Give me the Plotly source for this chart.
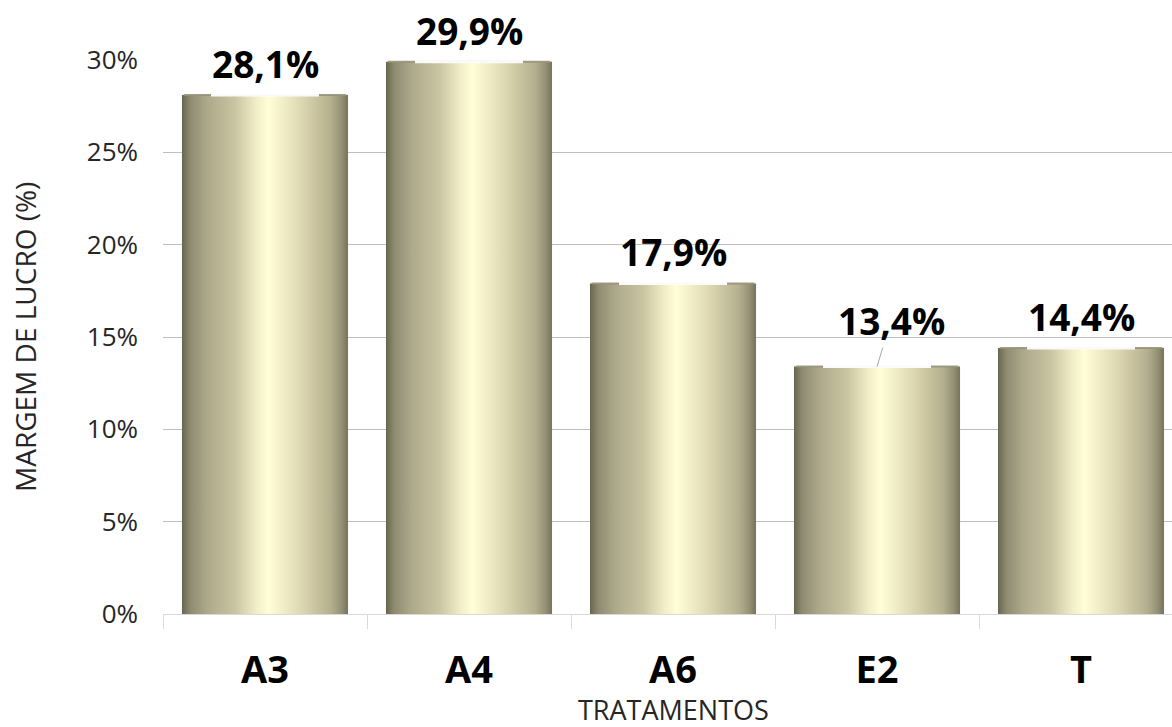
import plotly.graph_objects as go

# Profit margin by treatment
categories = ["A3", "A4", "A6", "E2", "T"]
margins = [28.1, 29.9, 17.9, 13.4, 14.4]
labels = ["28,1%", "29,9%", "17,9%", "13,4%", "14,4%"]
y_ticks = [0, 5, 10, 15, 20, 25, 30]
y_ticktext = ["0%", "5%", "10%", "15%", "20%", "25%", "30%"]

BAR_HALF = 0.407
FONT = "Open Sans, Lato, sans-serif"

# cylinder-like shading across each bar
cyl_scale = [
    [0.00, "#69664f"],
    [0.05, "#8f8b71"],
    [0.15, "#aca88a"],
    [0.32, "#c9c5a2"],
    [0.45, "#f1eec8"],
    [0.52, "#fffed6"],
    [0.60, "#f3f0c9"],
    [0.75, "#d6d1ab"],
    [0.90, "#b3ae8d"],
    [0.96, "#959176"],
    [1.00, "#77735c"],
]

fig = go.Figure()

for i, (cat, v) in enumerate(zip(categories, margins)):
    x0, x1 = i - BAR_HALF, i + BAR_HALF
    fig.add_trace(go.Scatter(
        x=[x0, x1, x1, x0, x0],
        y=[0, 0, v, v, 0],
        mode="lines",
        line=dict(width=0),
        fill="toself",
        fillgradient=dict(type="horizontal", colorscale=cyl_scale),
        hoverinfo="skip",
        showlegend=False,
        name=cat,
    ))
    # light rim along the top of the cylinder
    fig.add_trace(go.Scatter(
        x=[i - BAR_HALF * 0.98, i + BAR_HALF * 0.98],
        y=[v, v],
        mode="lines",
        line=dict(color="rgba(150,146,120,0.9)", width=2),
        hoverinfo="skip",
        showlegend=False,
    ))
    fig.add_trace(go.Scatter(
        x=[i - BAR_HALF * 0.65, i + BAR_HALF * 0.65],
        y=[v, v],
        mode="lines",
        line=dict(color="rgba(255,255,255,0.95)", width=3),
        hoverinfo="skip",
        showlegend=False,
    ))

# value labels above the bars
for i, (v, t) in enumerate(zip(margins, labels)):
    if categories[i] == "E2":
        fig.add_annotation(
            x=i, y=v, text=f"<b>{t}</b>", showarrow=True,
            arrowhead=0, arrowwidth=1, arrowcolor="#a6a6a6",
            ax=14, ay=-46, standoff=0,
            font=dict(family=FONT, size=37, color="#000000"),
        )
    else:
        fig.add_annotation(
            x=i, y=v, text=f"<b>{t}</b>", showarrow=False,
            yanchor="bottom", yshift=4,
            font=dict(family=FONT, size=37, color="#000000"),
        )

# axis titles
fig.add_annotation(
    x=2, xref="x", y=-0.1715, yref="paper", yanchor="middle",
    text="TRATAMENTOS", showarrow=False,
    font=dict(family=FONT, size=27, color="#262626"),
)
fig.add_annotation(
    x=-0.1368, xref="paper", xanchor="center", y=0.5, yref="paper",
    yanchor="middle", textangle=-90,
    text="MARGEM DE LUCRO (%)", showarrow=False,
    font=dict(family=FONT, size=28, color="#262626"),
)

fig.update_layout(
    width=1172, height=727,
    margin=dict(l=163, r=0, t=60, b=113),
    paper_bgcolor="white", plot_bgcolor="white",
    font=dict(family=FONT, color="#262626"),
    xaxis=dict(
        range=[-0.5, 4.446],
        tickvals=list(range(len(categories))),
        ticktext=[f"<b>{c}</b>" for c in categories],
        tickfont=dict(family=FONT, size=38, color="#000000"),
        ticks="", ticklabelstandoff=22,
        showgrid=False, zeroline=False,
        showline=True, linecolor="#d9d9d9", linewidth=1,
        minor=dict(tickvals=[-0.5, 0.5, 1.5, 2.5, 3.5, 4.5], ticks="outside",
                   ticklen=14, tickcolor="#d9d9d9", tickwidth=1, showgrid=False),
    ),
    yaxis=dict(
        range=[0, 30],
        tickvals=y_ticks, ticktext=y_ticktext,
        tickfont=dict(family=FONT, size=26, color="#262626"),
        ticks="", ticklabelstandoff=24,
        showgrid=True, gridcolor="#bfbfbf", gridwidth=1,
        zeroline=False, showline=False,
    ),
)

fig.write_html("out.html")
